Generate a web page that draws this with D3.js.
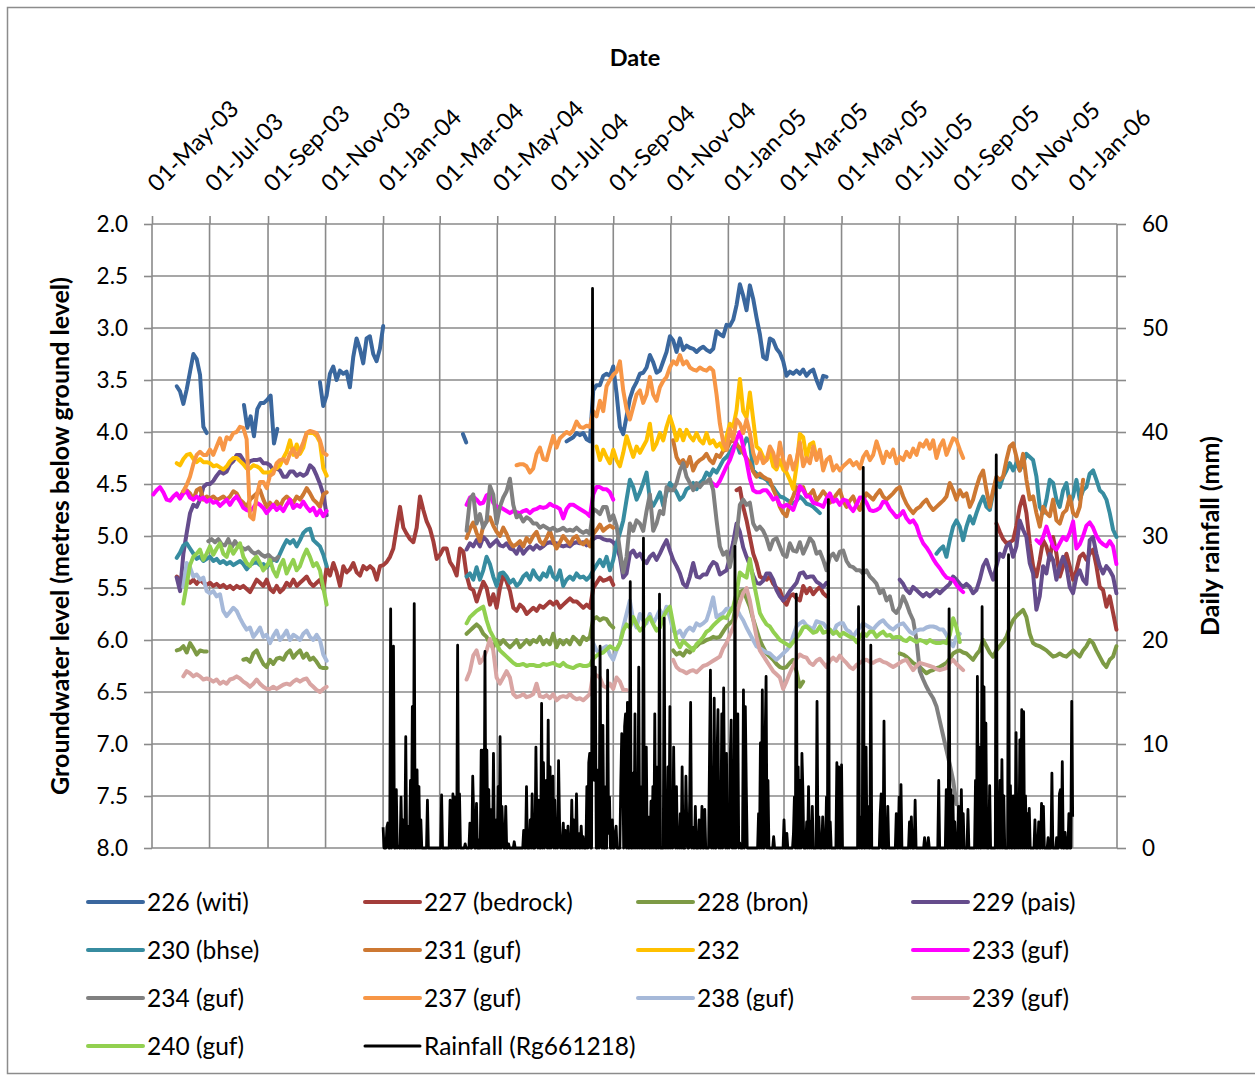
<!DOCTYPE html>
<html><head><meta charset="utf-8">
<script src="https://cdn.jsdelivr.net/npm/d3@7"></script>
<style>
body{margin:0;background:#fff;}
svg text{font-family:Lato,"Noto Sans",sans-serif;}
</style></head><body>
<svg id="c" width="1255" height="1077"></svg>
<script>
// ---------- data ----------
const BASE_DATE = "2003-05-01";      // day 0
const STEP = 3.533;                  // days between successive readings in a segment
const END_DAY = 1023;                // right edge of the date axis (days after base)
const tickDates = ["2003-05-01","2003-07-01","2003-09-01","2003-11-01","2004-01-01","2004-03-01","2004-05-01","2004-07-01","2004-09-01","2004-11-01","2005-01-01","2005-03-01","2005-05-01","2005-07-01","2005-09-01","2005-11-01","2006-01-01"];
const tickLabels = ["01-May-03","01-Jul-03","01-Sep-03","01-Nov-03","01-Jan-04","01-Mar-04","01-May-04","01-Jul-04","01-Sep-04","01-Nov-04","01-Jan-05","01-Mar-05","01-May-05","01-Jul-05","01-Sep-05","01-Nov-05","01-Jan-06"];
const levelTicks = [2.0,2.5,3.0,3.5,4.0,4.5,5.0,5.5,6.0,6.5,7.0,7.5,8.0];
const rainTicks = [0,5,10,15,20,25,30,35,40,45,50,55,60];

const s226 = [
 {day:26.2, v:[3.56,3.61,3.73,3.59,3.42,3.25,3.30,3.45,3.95,4.01]},
 {day:97.5, v:[3.74,3.96,3.85,4.04,3.78,3.72,3.72,3.69,3.65,4.11,3.97]},
 {day:178.0, v:[3.52,3.75,3.65,3.44,3.37,3.50,3.41,3.44,3.42,3.57,3.28,3.10,3.20,3.34,3.10,3.08,3.25,3.32,3.20,2.98]},
 {day:329.6, v:[4.02,4.10]},
 {day:439.5, v:[4.09,4.07,4.05,4.01,4.03,4.01,4.07,4.09,3.60,3.55,3.55,3.46,3.44,3.46,3.37,3.63,3.95,4.02,3.85,3.68,3.58,3.52,3.44,3.43,3.38,3.26,3.33,3.43,3.41,3.32,3.23,3.08,3.12,3.23,3.10,3.21,3.17,3.19,3.20,3.23,3.20,3.18,3.21,3.23,3.20,3.03,3.06,3.08,2.97,2.98,2.92,2.78,2.58,2.69,2.83,2.59,2.72,2.90,3.06,3.28,3.30,3.10,3.12,3.20,3.24,3.32,3.46,3.42,3.44,3.41,3.44,3.40,3.46,3.42,3.40,3.50,3.58,3.46,3.47]}
];
const s227 = [
 {day:26.2, v:[5.39,5.42,5.38,5.42,5.45,5.42,5.46,5.42,5.45,5.47,5.45,5.48,5.46,5.49,5.47,5.50,5.48,5.51,5.48,5.50,5.48,5.51,5.54,5.48,5.42,5.45,5.48,5.42,5.51,5.54,5.48,5.54,5.51,5.45,5.48,5.42,5.48,5.45,5.42,5.39,5.45,5.48,5.45,5.42,5.51,5.30,5.38,5.26,5.35,5.48,5.29,5.35,5.32,5.26,5.35,5.38,5.29,5.32,5.29,5.32,5.42,5.29,5.28,5.25,5.20,5.12,4.92,4.72,4.92,4.98,5.03,5.06,4.92,4.62,4.75,4.86,4.93,5.05,5.22,5.18,5.12,5.12,5.25,5.30,5.38,5.12,5.15,5.38,5.50,5.52,5.63,5.53,5.44,5.50,5.66,5.56,5.69,5.50,5.37,5.44,5.53,5.69,5.72,5.66,5.69,5.75,5.72,5.69,5.72,5.67,5.69,5.66,5.63,5.66,5.63,5.69,5.66,5.63,5.60,5.63,5.63,5.66,5.69,5.66,5.69,5.50,5.45,5.40,5.43,5.42,5.40,5.47]},
 {day:619.7, v:[4.56,4.54,4.72,4.85,5.01,5.17,5.26,5.39,5.41,5.42,5.39,5.46,5.50,5.52,5.62,5.66,5.58,5.56,5.60,5.62,5.48,5.55,5.50,5.56,5.52,5.49,5.55,5.58]},
 {day:895.2, v:[4.88,4.96,5.03,5.07,5.06,5.04,4.90,4.72,4.62,4.78,5.07,5.29,5.39,5.23,5.04,5.10,5.23,5.01,5.17,5.39,5.29,5.17,5.29,5.42,5.33,5.20,5.17,5.23,5.17,5.13,5.29,5.49,5.52,5.68,5.58,5.74,5.90]}
];
const s228 = [
 {day:26.2, v:[6.10,6.09,6.06,6.12,6.03,6.08,6.14,6.10,6.11,6.11]},
 {day:96.8, v:[6.19,6.18,6.21,6.13,6.10,6.17,6.23,6.26,6.19,6.23,6.18,6.17,6.19,6.13,6.10,6.17,6.13,6.10,6.17,6.13,6.19,6.17,6.21,6.26,6.27,6.27]},
 {day:333.5, v:[5.94,5.91,5.88,5.85,5.88,5.94,5.97,6.04,6.07,6.00,6.04,6.00,6.04,6.07,6.04,6.00,6.07,6.04,6.00,6.04,6.00,6.02,5.97,6.04,6.00,6.04,5.94,6.07,6.00,6.04,6.00,6.04,5.97,6.00,6.04,5.97,6.00,5.97,5.80,5.78,5.81,5.79,5.80,5.85,5.88]},
 {day:552.5, v:[6.10,6.14,6.12,6.15,6.10,6.12,6.08,6.06,6.03,6.02,6.00,5.99,5.97,5.98,5.97,5.92,5.87,5.84,5.81,5.62,5.54,5.52,5.60,5.68,5.80,5.90,6.00,6.07,6.13,6.16,6.19,6.23,6.26,6.27,6.26,6.22,6.19,6.30,6.45,6.40]},
 {day:792.7, v:[6.13,6.14,6.16,6.19,6.22,6.24,6.26,6.29,6.32,6.30,6.29,6.27,6.26,6.24,6.22,6.18,6.13,6.11,6.10,6.12,6.13,6.16,6.19,6.14,6.10,6.00,6.06,6.12,6.16,6.10,6.06,6.02,5.97,5.88,5.81,5.77,5.74,5.71,5.78,5.94,6.03,6.05,6.06,6.08,6.10,6.13,6.16,6.15,6.13,6.15,6.16,6.13,6.10,6.13,6.16,6.10,6.06,6.00,6.03,6.10,6.16,6.22,6.26,6.19,6.16,6.06]}
];
const s229 = [
 {day:26.2, v:[5.40,5.53,5.17,4.97,4.78,4.70,4.72,4.65,4.53,4.50,4.50,4.47,4.42,4.38,4.40,4.38,4.31,4.28,4.22,4.22,4.27,4.32,4.28,4.27,4.27,4.26,4.30,4.30,4.32,4.37,4.35,4.37,4.43,4.43,4.38,4.38,4.42,4.40,4.42,4.40,4.32,4.35,4.42,4.50,4.60,4.80]},
 {day:333.5, v:[5.13,5.07,5.10,5.04,5.10,5.01,5.04,5.10,5.07,5.04,5.09,5.10,5.07,5.12,5.13,5.17,5.10,5.17,5.13,5.10,5.13,5.09,5.12,5.10,5.07,5.06,5.07,5.07,5.09,5.10,5.09,5.10,5.07,5.06,5.07,5.06,5.09,5.07,5.03,5.01,5.01,5.03,5.04,5.04,5.06,5.10,5.20,5.40,5.36,5.17,5.14,5.20,5.17,5.23,5.26,5.20,5.17,5.23,5.17,5.10,5.04,5.14,5.23,5.29,5.36,5.46,5.49,5.39,5.26,5.39,5.40,5.37,5.37,5.30,5.25,5.27,5.37,5.35,5.33,5.20,5.06,4.88,4.96,5.11,5.20,5.28,5.38,5.45,5.46,5.43,5.36,5.36,5.42,5.52,5.58,5.62,5.58,5.53,5.49,5.45,5.36,5.35,5.40,5.39,5.39,5.44,5.46,5.49,5.45]},
 {day:792.7, v:[5.42,5.46,5.52,5.55,5.49,5.52,5.55,5.58,5.55,5.58,5.55,5.52,5.55,5.52,5.49,5.46,5.39,5.42,5.46,5.49,5.46,5.49,5.55,5.52,5.42,5.29,5.23,5.33,5.42,5.29,5.17,5.20,5.10,5.07,5.20,5.10,4.85,4.94,5.01,5.26,5.36,5.71,5.58,5.29,5.36,5.17,5.23,5.42,5.29,5.20,5.29,5.49,5.55,5.39,5.33,5.42,5.46,5.04,5.01,5.17,5.29,5.36,5.29,5.33,5.39,5.55]}
];
const s230 = [
 {day:26.2, v:[5.21,5.16,5.09,5.07,5.12,5.17,5.22,5.20,5.24,5.22,5.20,5.24,5.22,5.26,5.24,5.27,5.25,5.28,5.26,5.24,5.27,5.32,5.28,5.26,5.25,5.28,5.27,5.30,5.26,5.22,5.24,5.17,5.10,5.04,5.07,5.04,5.10,5.04,4.97,4.94,4.93,5.04,5.07,5.10,5.18,5.29]},
 {day:333.5, v:[5.39,5.36,5.42,5.30,5.42,5.33,5.20,5.27,5.39,5.48,5.36,5.35,5.39,5.45,5.42,5.48,5.45,5.39,5.36,5.42,5.33,5.39,5.42,5.36,5.39,5.30,5.39,5.42,5.33,5.48,5.42,5.39,5.42,5.36,5.40,5.39,5.42,5.39,5.33,5.28,5.23,5.29,5.20,5.33,5.23,5.07,4.97,4.85,4.65,4.46,4.53,4.65,4.58,4.49,4.39,4.65,4.71,4.65,4.58,4.71,4.58,4.49,4.53,4.58,4.65,4.62,4.55,4.53,4.49,4.55,4.49,4.46,4.39,4.42,4.36,4.39,4.33,4.27,4.24,4.20,4.14,4.11,4.20,4.14,4.06,4.10,4.37,4.40,4.43,4.44,4.46,4.50,4.53,4.58,4.62,4.63,4.65,4.67,4.69,4.66,4.62,4.65,4.69,4.70,4.72,4.75,4.78]},
 {day:831.6, v:[5.17,5.13,5.10,5.20,5.04,4.91,4.85,4.91,5.04,4.91,4.81,4.88,4.78,4.69,4.62,4.72,4.75,4.59,4.46,4.53,4.43,4.37,4.30,4.37,4.30,4.37,4.30,4.21,4.24,4.27,4.43,4.72,4.78,4.65,4.46,4.49,4.65,4.72,4.56,4.49,4.69,4.62,4.46,4.65,4.56,4.53,4.40,4.37,4.46,4.56,4.59,4.65,4.78,4.94,5.01]}
];
const s231 = [
 {day:26.2, v:[4.60,4.63,4.57,4.56,4.59,4.65,4.56,4.54,4.65,4.62,4.64,4.62,4.65,4.64,4.62,4.65,4.62,4.57,4.59,4.65,4.68,4.72,4.65,4.62,4.59,4.56,4.65,4.72,4.68,4.72,4.67,4.72,4.65,4.62,4.65,4.68,4.62,4.65,4.60,4.54,4.59,4.65,4.68,4.72,4.60,4.58]},
 {day:333.5, v:[5.02,4.93,4.87,4.97,5.05,4.90,4.86,4.82,4.90,4.96,5.00,4.92,4.98,5.06,5.10,5.08,5.05,5.10,5.02,5.06,5.00,4.96,5.05,5.08,5.02,4.95,5.05,5.12,5.06,5.00,5.04,5.08,5.02,5.00,5.06,5.08,5.04,5.10,4.98,4.94,4.89,4.95,4.92,4.90,4.92]},
 {day:552.5, v:[4.08,4.24,4.30,4.27,4.33,4.24,4.37,4.30,4.27,4.25,4.21,4.27,4.30,4.22,4.24,4.18,4.17,4.10,4.08,4.12,4.15,4.20,4.25,4.30,4.38,4.43,4.40,4.43,4.45,4.46,4.55,4.62,4.72,4.78,4.81,4.69,4.62,4.53,
   4.56,4.53,4.62,4.60,4.56,4.66,4.62,4.57,4.61,4.68,4.65,4.60,4.56,4.66,4.72,4.66,4.62,4.70,4.75,4.66,4.59,4.62,4.65,4.60,4.56,4.62,4.65,4.62,4.59,4.55,4.53,4.62,4.69,4.74,4.78,4.74,4.72,4.68,4.65,4.71,4.75,4.72,4.69,4.66,4.62,4.49,4.56,4.65,4.56,4.62,4.59,4.72,4.65,4.53,4.43,4.37,4.56,4.72,4.56,4.43,4.46,4.43,4.27,4.14,4.11,4.24,4.37,4.21,4.46,4.65,4.62,4.78,4.91,4.72,4.78,4.81,4.65,4.85,4.88,4.78,4.75,4.62,4.78,4.81,4.72,4.46]}
];
const s232 = [
 {day:26.2, v:[4.30,4.32,4.26,4.22,4.21,4.26,4.29,4.26,4.29,4.29,4.30,4.33,4.32,4.34,4.36,4.33,4.28,4.25,4.25,4.28,4.31,4.35,4.35,4.32,4.33,4.35,4.39,4.39,4.39,4.36,4.35,4.32,4.25,4.19,4.08,4.22,4.12,4.21,4.15,4.01,4.01,4.01,4.04,4.10,4.35,4.42]},
 {day:471.3, v:[4.14,4.27,4.17,4.24,4.30,4.17,4.27,4.33,4.20,4.04,4.14,4.24,4.14,4.20,4.14,4.08,3.92,4.17,4.11,4.01,4.08,3.95,3.85,3.95,4.08,3.98,4.08,3.98,4.04,4.08,4.01,4.08,4.11,4.01,4.11,4.08,4.14,4.11,4.17,4.04,3.92,3.95,3.79,3.49,3.80,3.86,3.62,3.88,4.14,4.17,4.24,4.27,4.20,4.33,4.36,4.27,4.36,4.39,4.46,4.55,4.33,4.02,4.05,4.25,4.12,4.10,4.25,4.22]}
];
const s233 = [
 {day:1.4, v:[4.60,4.56,4.53,4.58,4.65,4.66,4.62,4.59,4.64,4.59,4.57,4.63,4.65,4.62,4.65,4.63,4.67,4.65,4.68,4.67,4.71,4.68,4.65,4.70,4.65,4.62,4.67,4.73,4.75,4.76,4.73,4.68,4.70,4.73,4.78,4.74,4.70,4.75,4.72,4.76,4.70,4.65,4.73,4.70,4.72,4.67,4.72,4.76,4.73,4.80,4.75,4.81,4.76]},
 {day:333.5, v:[4.70,4.63,4.62,4.65,4.69,4.68,4.61,4.59,4.68,4.72,4.72,4.74,4.76,4.78,4.76,4.77,4.78,4.76,4.75,4.78,4.75,4.74,4.72,4.73,4.72,4.69,4.71,4.72,4.74,4.83,4.74,4.70,4.70,4.72,4.74,4.76,4.78,4.81,4.60,4.53,4.53,4.55,4.55,4.58,4.65]},
 {day:591.4, v:[4.47,4.50,4.52,4.47,4.40,4.33,4.27,4.18,4.07,4.00,4.14,4.28,4.45,4.56,4.58,4.58,4.56,4.56,4.60,4.65,4.63,4.70,4.72,4.70,4.72,4.75,4.66,4.52,4.56,4.62,4.62,4.68,4.69,4.70,4.72,4.64,4.59,4.67,4.65,4.70,4.65,4.66,4.72,4.76,4.70,4.63,4.63,4.68,4.75,4.76,4.75,4.73,4.67,4.68,4.74,4.78,4.82,4.80,4.76,4.83,4.87,4.85,4.90,5.00,5.07,5.11,5.16,5.22,5.27,5.31,5.36,5.40,5.41,5.42,5.47,5.51,5.54]},
 {day:937.6, v:[5.04,5.07,5.01,4.91,5.01,5.10,5.13,5.07,5.01,5.04,4.97,4.86,5.12,5.08,5.00,4.90,4.87,4.92,5.00,5.05,5.08,5.10,5.05,5.10,5.27]}
];
const s234 = [
 {day:59.7, v:[5.05,5.03,5.06,5.03,5.08,5.09,5.03,5.11,5.05,5.10,5.11,5.13,5.11,5.15,5.17,5.15,5.18,5.20,5.18,5.21,5.23,5.20]},
 {day:333.5, v:[4.95,4.65,4.60,4.88,4.79,4.92,4.86,4.52,4.60,4.88,4.72,4.63,4.57,4.45,4.70,4.82,4.80,4.86,4.82,4.84,4.88,4.88,4.92,4.90,4.92,4.94,4.92,4.95,4.94,4.92,4.95,4.94,4.95,4.92,4.95,4.97,4.95,4.98,4.74,4.76,4.79,4.72,4.72,4.85,4.80,4.90,5.14,5.35,5.20,4.88,4.95,4.85,4.88,4.95,4.76,4.60,4.95,4.88,4.76,4.79,4.53,4.56,4.56,4.49,4.37,4.30,4.43,4.49,4.56,4.49,4.53,4.49,4.48,4.45,4.56,4.85,5.10,5.18,5.15,5.30,5.14,5.00,4.70,4.65,4.70,4.68,4.88,4.94,4.91,4.95,5.02,5.13,5.04,5.02,5.10,5.18,5.20,5.07,5.14,5.15,5.06,5.17,5.10,5.02,5.06,5.17,5.15,5.23,5.33,5.20,5.17,5.23,5.15,5.14,5.24,5.29,5.30,5.33,5.33,5.36,5.33,5.39,5.42,5.46,5.55,5.52,5.62,5.58,5.71,5.74,5.68,5.58,5.65,5.74,5.81,6.00,6.30,6.38,6.45,6.51,6.56,6.64,6.78,6.92,7.06,7.20,7.35,7.58]}
];
const s237 = [
 {day:33.2, v:[4.57,4.51,4.43,4.31,4.22,4.19,4.22,4.22,4.17,4.22,4.14,4.06,4.17,4.05,4.07,4.01,4.00,3.95,3.96,4.07,4.81,4.84,4.62,4.48,4.48,4.54,4.42,4.40,4.30,4.27,4.26,4.30,4.21,4.16,4.24,4.18,4.10,4.01,3.99,4.00,4.01,4.08,4.20,4.22]},
 {day:386.5, v:[4.32,4.31,4.31,4.33,4.39,4.35,4.21,4.15,4.26,4.27,4.15,4.04,4.15,4.06,4.03,4.00,4.02,3.98,3.90,3.95,3.96,3.94,3.95,3.80,3.85,3.70,3.80,3.56,3.50,3.45,3.42,3.32,3.60,3.78,3.88,3.76,3.64,3.60,3.72,3.64,3.47,3.64,3.70,3.57,3.51,3.47,3.38,3.32,3.35,3.26,3.35,3.32,3.38,3.40,3.41,3.38,3.40,3.41,3.38,3.41,3.64,3.92,4.10,4.17,3.97,4.07,3.88,3.92,4.01,3.88,4.01,4.20,4.30,4.20,4.30,4.27,4.14,4.20,4.33,4.10,4.27,4.36,4.23,4.36,4.27,4.10,4.33,4.25,4.30,4.14,4.27,4.17,4.37,4.27,4.24,4.37,4.32,4.37,4.33,4.30,4.27,4.32,4.29,4.35,4.24,4.19,4.27,4.22,4.09,4.19,4.30,4.19,4.24,4.17,4.30,4.24,4.27,4.19,4.24,4.16,4.22,4.11,4.14,4.08,4.16,4.08,4.25,4.14,4.08,4.22,4.14,4.06,4.08,4.17,4.25]}
];
const s238 = [
 {day:33.2, v:[5.49,5.26,5.30,5.39,5.37,5.42,5.40,5.53,5.55,5.53,5.58,5.56,5.72,5.77,5.73,5.69,5.72,5.79,5.85,5.90,5.88,5.97,5.93,5.88,5.97,5.95,6.03,5.96,5.91,6.00,5.96,5.91,6.00,5.95,5.97,6.00,5.94,5.91,5.97,6.00,5.95,6.00,6.14,6.20]},
 {day:467.7, v:[6.03,6.10,6.13,6.08,6.06,6.14,6.19,6.10,6.03,5.88,5.75,5.62,5.81,5.88,5.75,5.81,5.84,5.75,5.84,5.78,5.71,5.78,5.68,5.78,5.91,5.94,5.91,5.97,5.91,5.88,5.91,5.84,5.86,5.84,5.81,5.71,5.59,5.78,5.76,5.74,5.70,5.70,5.69,5.70,5.76,5.81,5.88,5.94,6.00,6.06,6.08,6.10,6.12,6.13,6.16,6.19,6.16,6.13,6.10,6.06,5.96,5.87,5.84,5.82,5.86,5.88,5.90,5.82,5.83,5.84,5.88,5.90,5.94,5.86,5.84,5.84,5.90,5.92,5.97,5.92,5.88,5.84,5.86,5.88,5.90,5.86,5.83,5.81,5.85,5.88,5.90,5.87,5.85,5.84,5.88,5.92,5.94,5.91,5.90,5.90,5.88,5.87,5.87,5.88,5.90,5.90,5.95,6.02,6.06,5.97,5.94]}
];
const s239 = [
 {day:33.2, v:[6.35,6.30,6.32,6.35,6.33,6.35,6.38,6.37,6.38,6.40,6.38,6.42,6.40,6.42,6.38,6.37,6.35,6.37,6.40,6.42,6.45,6.42,6.38,6.42,6.45,6.47,6.47,6.45,6.47,6.45,6.43,6.42,6.43,6.40,6.38,6.40,6.38,6.37,6.42,6.45,6.48,6.50,6.47,6.45]},
 {day:333.5, v:[6.38,6.30,6.15,6.10,6.22,6.18,6.10,5.99,6.10,6.36,6.42,6.36,6.30,6.36,6.52,6.55,6.54,6.52,6.55,6.54,6.52,6.42,6.54,6.55,6.53,6.56,6.52,6.58,6.55,6.54,6.55,6.52,6.55,6.57,6.56,6.58,6.55,6.52,6.32,6.34,6.36,6.44,6.46,6.42,6.47,6.36,6.40,6.48,6.48]},
 {day:552.5, v:[6.19,6.26,6.29,6.30,6.32,6.30,6.29,6.31,6.28,6.25,6.24,6.22,6.20,6.18,6.16,6.08,6.03,5.95,5.88,5.76,5.64,5.55,5.50,5.62,5.80,5.97,6.10,6.15,6.20,6.25,6.30,6.33,6.36,6.47,6.40,6.32,6.25,6.18,6.14,6.16,6.17,6.22,6.24,6.20,6.18,6.22,6.26,6.20,6.17,6.20,6.15,6.19,6.22,6.26,6.28,6.24,6.22,6.20,6.19,6.21,6.22,6.20,6.19,6.21,6.22,6.24,6.26,6.24,6.22,6.20,6.19,6.24,6.29,6.25,6.22,6.23,6.24,6.25,6.26,6.28,6.29,6.28,6.27,6.22,6.19,6.23,6.26,6.29]}
];
const s240 = [
 {day:33.2, v:[5.65,5.47,5.28,5.20,5.17,5.13,5.23,5.17,5.10,5.18,5.12,5.07,5.17,5.20,5.10,5.17,5.12,5.07,5.20,5.26,5.29,5.23,5.20,5.26,5.33,5.29,5.23,5.33,5.39,5.29,5.23,5.36,5.29,5.23,5.33,5.29,5.20,5.13,5.20,5.29,5.26,5.33,5.50,5.66]},
 {day:333.5, v:[5.84,5.78,5.75,5.72,5.70,5.68,5.81,5.91,5.97,6.04,6.10,6.13,6.16,6.19,6.22,6.24,6.24,6.23,6.25,6.24,6.24,6.25,6.25,6.23,6.24,6.23,6.22,6.24,6.25,6.22,6.25,6.26,6.27,6.25,6.24,6.25,6.25,6.24,6.18,6.15,6.13,6.12,6.09,6.06,6.08,6.09,6.03,5.91,5.85,5.88,5.78,5.85,5.91,5.88,5.81,5.78,5.85,5.91,5.88,5.78,5.72,5.68,5.85,6.01,6.07,6.01,6.04,6.07,6.10,6.04,6.01,5.97,5.92,5.90,5.86,5.83,5.80,5.78,5.79,5.73,5.68,5.55,5.35,5.38,5.40,5.22,5.42,5.58,5.74,5.80,5.85,5.87,5.92,5.96,6.00,6.02,6.04,6.06,6.02,5.98,5.94,5.88,5.87,5.90,5.93,5.92,5.87,5.93,5.92,5.90,5.94,5.92,5.96,5.93,5.95,5.97,5.98,6.02,5.97,5.93,5.96,5.92,5.92,5.97,5.94,5.92,5.96,5.95,5.98,5.97,5.97,6.00,6.01,5.98,6.00,6.02,6.00,6.01,6.03,6.00,6.02,6.03,6.03,6.02,6.03,5.95,5.79,5.88,6.02]}
];
// daily rainfall (mm) on rain days: [day after base, mm]; other days had no rain
const rainDays = [[245,2.0],[249,2.0],[250,2.4],[253,23.0],[255,5.6],[256,19.4],[259,5.6],[261,0.2],[264,4.9],[266,2.7],[269,10.7],[272,2.1],[274,6.5],[276,13.6],[278,23.5],[281,7.5],[283,5.9],[285,2.7],[292,4.6],[307,5.1],[316,4.6],[319,5.2],[321,4.9],[324,19.5],[326,5.2],[332,0.4],[337,2.4],[340,6.9],[341,3.3],[344,4.3],[347,0.8],[349,9.4],[351,9.4],[353,18.9],[355,9.4],[357,5.6],[360,3.7],[362,9.1],[365,2.7],[367,5.9],[369,10.7],[371,4.0],[372,1.4],[375,4.0],[378,0.4],[384,0.6],[394,1.7],[397,5.9],[399,0.8],[401,2.7],[403,5.2],[407,9.7],[408,2.1],[410,4.6],[413,13.9],[415,8.2],[417,2.4],[418,6.5],[420,12.3],[422,7.8],[424,3.7],[425,6.9],[427,4.6],[429,2.7],[431,8.4],[432,2.7],[434,1.1],[436,2.4],[438,1.7],[441,2.1],[445,4.6],[447,2.7],[450,5.2],[452,1.4],[455,2.1],[457,1.1],[461,5.9],[463,8.2],[464,9.1],[467,53.8],[468,16.0],[469,6.5],[470,17.4],[473,7.5],[475,19.4],[476,3.3],[478,11.8],[481,5.9],[483,17.1],[484,1.4],[485,4.9],[488,2.7],[491,1.4],[492,2.1],[497,6.5],[498,11.0],[499,9.4],[501,11.7],[502,12.9],[504,14.0],[507,25.6],[510,7.2],[512,12.9],[514,5.2],[516,17.4],[518,5.9],[521,29.8],[524,9.7],[526,3.0],[529,4.5],[531,5.9],[533,12.9],[536,7.8],[538,24.4],[543,22.1],[545,3.0],[547,7.8],[549,13.6],[551,4.0],[553,9.7],[554,2.1],[556,5.9],[558,1.4],[560,3.3],[562,7.8],[564,1.0],[566,6.9],[567,2.0],[570,4.6],[571,14.0],[573,2.0],[576,4.0],[580,2.7],[583,4.0],[586,3.7],[591,8.5],[592,17.1],[594,7.8],[596,14.4],[599,8.8],[600,13.3],[602,5.0],[604,12.9],[606,15.4],[607,5.0],[609,9.1],[611,3.0],[613,8.5],[614,12.3],[616,4.0],[618,29.0],[620,4.0],[621,12.9],[623,0.5],[627,15.2],[629,13.6],[630,5.9],[643,3.3],[645,10.1],[647,15.2],[650,10.4],[651,16.5],[653,6.5],[659,1.1],[670,2.7],[673,1.4],[680,1.4],[681,4.9],[683,24.4],[685,7.8],[687,6.5],[689,9.1],[690,5.6],[694,2.5],[696,5.9],[698,2.5],[700,4.0],[705,14.1],[707,3.0],[711,3.0],[715,4.9],[717,33.5],[719,2.5],[726,8.2],[728,7.8],[731,8.0],[749,23.2],[751,3.0],[754,36.6],[757,9.7],[759,4.0],[762,19.5],[772,3.3],[773,5.2],[776,12.2],[780,4.0],[789,3.3],[792,4.9],[794,6.1],[803,2.5],[805,3.0],[809,4.6],[819,1.0],[823,1.0],[834,6.5],[842,5.6],[845,23.0],[847,5.6],[849,5.0],[851,2.5],[855,4.0],[858,5.6],[860,3.3],[865,3.7],[873,6.5],[875,16.5],[877,9.7],[880,23.2],[882,15.5],[884,12.0],[888,6.0],[895,37.8],[897,4.0],[899,6.5],[901,8.5],[903,5.0],[908,28.2],[910,6.0],[913,5.0],[916,11.1],[918,5.0],[920,10.4],[922,13.3],[924,13.1],[926,5.0],[928,3.3],[930,3.8],[936,2.7],[940,2.5],[943,4.3],[945,4.0],[950,1.0],[954,7.2],[959,1.0],[962,5.2],[963,5.6],[965,8.3],[968,1.5],[970,1.0],[972,3.3],[975,14.1],[976,3.0]];

const seriesNames = ["226 (witi)","227 (bedrock)","228 (bron)","229 (pais)","230 (bhse)","231 (guf)","232","233 (guf)","234 (guf)","237 (guf)","238 (guf)","239 (guf)","240 (guf)"];
const seriesColors = ["#3A679E","#A33D3A","#7D9A45","#654C8C","#378CA0","#CD7832","#FFC000","#FF00FF","#808080","#F79646","#A6B9D9","#D9A5A3","#92D050"];
const seriesData = [s226,s227,s228,s229,s230,s231,s232,s233,s234,s237,s238,s239,s240];
const rainName = "Rainfall (Rg661218)";

// ---------- drawing ----------
const svg = d3.select("#c");
const GRID = "#8a8a8a";
const X0=152, X1=1117, Y0=224, Y1=848;
const base = new Date(BASE_DATE + "T00:00:00Z");
const dayDate = d => new Date(base.getTime() + d*86400000);

svg.append("rect").attr("x",7.5).attr("y",7.5).attr("width",1252).attr("height",1066)
  .attr("fill","#fff").attr("stroke","#8c8c8c").attr("stroke-width",1.5);

const x = d3.scaleUtc().domain([base, dayDate(END_DAY)]).range([X0,X1]);
const y = d3.scaleLinear().domain([2,8]).range([Y0,Y1]);
const yr = d3.scaleLinear().domain([0,60]).range([Y1,Y0]);
const tDates = tickDates.map(s => new Date(s+"T00:00:00Z"));

// gridlines
const grid = svg.append("g").attr("stroke",GRID).attr("stroke-width",1.6);
grid.selectAll("line.h").data(levelTicks).join("line")
  .attr("x1",X0).attr("x2",X1).attr("y1",d=>y(d)).attr("y2",d=>y(d));
grid.selectAll("line.v").data(tDates).join("line").attr("class","v")
  .attr("x1",d=>x(d)).attr("x2",d=>x(d)).attr("y1",Y0).attr("y2",Y1);
grid.append("line").attr("x1",X1).attr("x2",X1).attr("y1",Y0).attr("y2",Y1);

// axes
const gTop = svg.append("g").attr("transform",`translate(0,${Y0})`)
  .call(d3.axisTop(x).tickValues(tDates).tickFormat((d,i)=>tickLabels[i]).tickSize(8).tickPadding(0));
const gLeft = svg.append("g").attr("transform",`translate(${X0},0)`)
  .call(d3.axisLeft(y).tickValues(levelTicks).tickFormat(d3.format(".1f")).tickSize(8).tickPadding(16));
const gRight = svg.append("g").attr("transform",`translate(${X1},0)`)
  .call(d3.axisRight(yr).tickValues(rainTicks).tickFormat(d => d%10===0 ? d : "").tickSize(9).tickPadding(16));
[gTop,gLeft,gRight].forEach(g=>{
  g.attr("font-family","Lato, 'Noto Sans', sans-serif").attr("font-size",22.5);
  g.select(".domain").remove();
  g.selectAll(".tick line").attr("stroke",GRID).attr("stroke-width",1.6);
  g.selectAll(".tick text").attr("fill","#000");
});
gTop.attr("font-size",23.5);
gTop.selectAll(".tick text").attr("x",0).attr("y",0).attr("dy",null)
  .attr("text-anchor","start").attr("transform","translate(5,-31) rotate(-45)");

// groundwater series
const line = d3.line().x(p=>x(p[0])).y(p=>y(p[1]));
const gS = svg.append("g").attr("fill","none").attr("stroke-linejoin","round").attr("stroke-linecap","round");
seriesData.forEach((segs,k)=>{
  segs.forEach(seg=>{
    const pts = seg.v.map((v,i)=>[dayDate(seg.day + i*STEP), v]);
    gS.append("path").attr("d",line(pts)).attr("stroke",seriesColors[k]).attr("stroke-width",4);
  });
});

// rainfall line (daily series, zero on days without rain)
const rpts = [];
rainDays.forEach(([d,m],i)=>{
  if(i>0){
    const p = rainDays[i-1][0];
    if(d-p>1){ rpts.push([p+1,0]); if(d-p>2) rpts.push([d-1,0]); }
  }
  rpts.push([d,m]);
});
const rline = d3.line().x(p=>x(dayDate(p[0]))).y(p=>yr(p[1]));
svg.append("path").attr("d",rline(rpts)).attr("fill","none").attr("stroke","#000")
  .attr("stroke-width",2.8).attr("stroke-linejoin","round");

// titles
svg.append("text").attr("x",635).attr("y",66).attr("text-anchor","middle")
  .attr("font-weight","bold").attr("font-size",23.5).text("Date");
svg.append("text").attr("transform","translate(69,536) rotate(-90)").attr("text-anchor","middle")
  .attr("font-weight","bold").attr("font-size",25).text("Groundwater level (metres below ground level)");
svg.append("text").attr("transform","translate(1219,536) rotate(-90)").attr("text-anchor","middle")
  .attr("font-weight","bold").attr("font-size",25).text("Daily rainfall (mm)");

// legend
const legItems = seriesNames.map((n,i)=>({name:n,color:seriesColors[i],w:4})).concat([{name:rainName,color:"#000",w:3}]);
const colX = [88,365,638,913], rowY = [902,950,998,1046];
const gL = svg.append("g");
legItems.forEach((it,i)=>{
  const cx = colX[i%4], cy = rowY[Math.floor(i/4)];
  gL.append("line").attr("x1",cx).attr("x2",cx+55).attr("y1",cy).attr("y2",cy)
    .attr("stroke",it.color).attr("stroke-width",it.w).attr("stroke-linecap","round");
  gL.append("text").attr("x",cx+59).attr("y",cy).attr("dy","0.36em").attr("font-size",24.5).text(it.name);
});
</script>
</body></html>
